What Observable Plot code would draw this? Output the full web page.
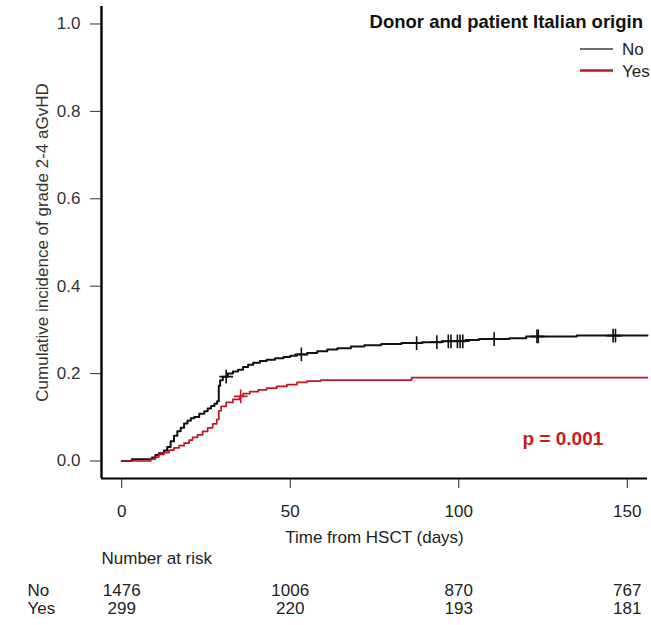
<!DOCTYPE html>
<html>
<head>
<meta charset="utf-8">
<script src="https://cdn.jsdelivr.net/npm/d3@7"></script>
<script src="https://cdn.jsdelivr.net/npm/@observablehq/plot@0.6"></script>
<style>
  html, body { margin: 0; padding: 0; background: #fff; }
  #chart { position: relative; width: 651px; height: 625px; font-family: "Liberation Sans", Arial, sans-serif; }
  #legend { position: absolute; left: 0; top: 0; pointer-events: none; }
</style>
</head>
<body>
<div id="chart"></div>
<script>
// Cumulative incidence of grade 2-4 aGvHD by donor/patient Italian origin
const groups = ["No", "Yes"];
const legendTitle = "Donor and patient Italian origin";

// Step estimates, group "No"
const noTimes = [0, 3, 9, 10, 11, 12.5, 13.5, 14.5, 15.5, 16.5, 17.5, 18.5, 19.5, 20.5, 21.5, 23, 24.5, 25.5, 26.5, 27.5, 28.3, 28.8, 29.2, 30, 31.5, 33, 34.5, 36, 37.5, 39, 41, 43, 45.5, 48, 50, 52, 55, 58, 61, 64, 68, 72, 77, 83, 89, 95, 102, 106, 115, 120, 135, 156];
const noCI    = [0, 0.004, 0.008, 0.014, 0.018, 0.024, 0.032, 0.045, 0.058, 0.068, 0.076, 0.086, 0.092, 0.098, 0.101, 0.108, 0.114, 0.12, 0.126, 0.131, 0.137, 0.172, 0.185, 0.193, 0.2, 0.205, 0.209, 0.215, 0.22, 0.225, 0.229, 0.232, 0.235, 0.238, 0.241, 0.244, 0.247, 0.251, 0.255, 0.258, 0.262, 0.265, 0.268, 0.27, 0.272, 0.274, 0.277, 0.279, 0.281, 0.285, 0.287, 0.287];

// Step estimates, group "Yes"
const yesTimes = [0, 8.6, 10, 11, 12.5, 14, 15.5, 17, 18.5, 20, 21, 22.5, 24, 25.5, 27, 28.2, 28.8, 29.5, 31, 33, 35, 36, 38, 40.5, 43, 46, 49, 52, 55, 59, 86, 156];
const yesCI    = [0, 0.004, 0.009, 0.015, 0.019, 0.025, 0.03, 0.035, 0.041, 0.048, 0.054, 0.06, 0.068, 0.076, 0.085, 0.095, 0.115, 0.125, 0.134, 0.141, 0.148, 0.154, 0.159, 0.163, 0.167, 0.171, 0.175, 0.18, 0.183, 0.185, 0.191, 0.191];

// Censoring times
const noCensor  = [31, 53.3, 87.5, 93.5, 96.9, 97.7, 99.6, 100.4, 101.2, 110.5, 123.2, 123.6, 145.8, 146.5];
const yesCensor = [35.3];

// Axes
const xTicks = [0, 50, 100, 150];
const yTicks = [0, 0.2, 0.4, 0.6, 0.8, 1.0];
const xLabel = "Time from HSCT (days)";
const yLabel = "Cumulative incidence of grade 2-4 aGvHD";

// Number at risk
const riskTimes = [0, 50, 100, 150];
const riskNo  = [1476, 1006, 870, 767];
const riskYes = [299, 220, 193, 181];

const pLabel = "p = 0.001";

const colors = { No: "#111111", Yes: "#c0161e" };
const swatch = { No: "#6e6e6e", Yes: "#c0161e" };

function stepAt(times, vals, t) {
  let v = vals[0];
  for (let i = 0; i < times.length; i++) if (times[i] <= t) v = vals[i];
  return v;
}

const noData  = noTimes.map((t, i) => ({t, v: noCI[i]}));
const yesData = yesTimes.map((t, i) => ({t, v: yesCI[i]}));
const noMarks  = noCensor.map(t => ({t, v: stepAt(noTimes, noCI, t)}));
const yesMarks = yesCensor.map(t => ({t, v: stepAt(yesTimes, yesCI, t)}));

const xMin = -6, xMax = 156, yMin = -0.04, yMax = 1.04;
const fs = 17;
const ink = "#222";

const chart = Plot.plot({
  width: 651,
  height: 625,
  marginLeft: 101,
  marginRight: 4,
  marginTop: 6,
  marginBottom: 147,
  style: { fontFamily: "'Liberation Sans', Arial, sans-serif", background: "white", overflow: "visible" },
  x: { domain: [xMin, xMax] },
  y: { domain: [yMin, yMax] },
  marks: [
    Plot.axisY({ ticks: yTicks, tickSize: 11, tickPadding: 10, fontSize: fs, tickFormat: d3.format(".1f"), color: "#333", label: null }),
    Plot.axisX({ ticks: xTicks, tickSize: 10, tickPadding: 16.5, fontSize: fs, tickFormat: d3.format("d"), color: "#222", label: null }),
    Plot.ruleX([xMin], { stroke: "#000", strokeWidth: 2.4 }),
    Plot.ruleY([yMin], { stroke: "#000", strokeWidth: 2 }),
    Plot.line(noData,  { x: "t", y: "v", curve: "step-after", stroke: colors.No, strokeWidth: 2 }),
    Plot.line(yesData, { x: "t", y: "v", curve: "step-after", stroke: colors.Yes, strokeWidth: 1.7 }),
    Plot.dot(noMarks,  { x: "t", y: "v", symbol: "plus", r: 4.5, stroke: colors.No, strokeWidth: 1.6 }),
    Plot.dot(yesMarks, { x: "t", y: "v", symbol: "plus", r: 4.5, stroke: colors.Yes, strokeWidth: 1.6 }),
    Plot.text([pLabel], { text: d => d, frameAnchor: "bottom-left", dx: 421, dy: -33.8, textAnchor: "start", fontSize: 19, fontWeight: "bold", fill: "#cc1a1a" }),
    Plot.text([xLabel], { text: d => d, frameAnchor: "bottom", dy: 64.5, fontSize: fs, fill: ink }),
    Plot.text([yLabel], { text: d => d, frameAnchor: "left", rotate: -90, textAnchor: "middle", dx: -59.4, fontSize: fs, fill: "#333" }),
    Plot.text(["Number at risk"], { text: d => d, frameAnchor: "bottom-left", dy: 85, textAnchor: "start", fontSize: fs, fill: ink }),
    Plot.text([groups[0]], { text: d => d, frameAnchor: "bottom-left", dx: -74, dy: 117.6, textAnchor: "start", fontSize: fs, fill: ink }),
    Plot.text([groups[1]], { text: d => d, frameAnchor: "bottom-left", dx: -74, dy: 135.6, textAnchor: "start", fontSize: fs, fill: ink }),
    Plot.text(riskTimes, { x: d => d, text: (d, i) => String(riskNo[i]), frameAnchor: "bottom", dy: 117.6, fontSize: fs, fill: ink }),
    Plot.text(riskTimes, { x: d => d, text: (d, i) => String(riskYes[i]), frameAnchor: "bottom", dy: 135.6, fontSize: fs, fill: ink })
  ]
});

const root = document.getElementById("chart");
root.appendChild(chart);

// Legend in the top-right corner
const leg = d3.select(root).append("svg")
  .attr("id", "legend")
  .attr("width", 651)
  .attr("height", 90)
  .style("font-family", "'Liberation Sans', Arial, sans-serif");

leg.append("text")
  .attr("x", 643).attr("y", 28)
  .attr("text-anchor", "end")
  .attr("font-weight", "bold")
  .attr("font-size", 18.5)
  .attr("fill", "#111")
  .text(legendTitle);

groups.forEach((g, i) => {
  const cy = 49 + i * 21.5;
  leg.append("line")
    .attr("x1", 580).attr("x2", 613)
    .attr("y1", cy).attr("y2", cy)
    .attr("stroke", swatch[g])
    .attr("stroke-width", i === 0 ? 2 : 2.5);
  leg.append("text")
    .attr("x", 622).attr("y", cy + 6)
    .attr("font-size", fs)
    .attr("fill", ink)
    .text(g);
});
</script>
</body>
</html>
